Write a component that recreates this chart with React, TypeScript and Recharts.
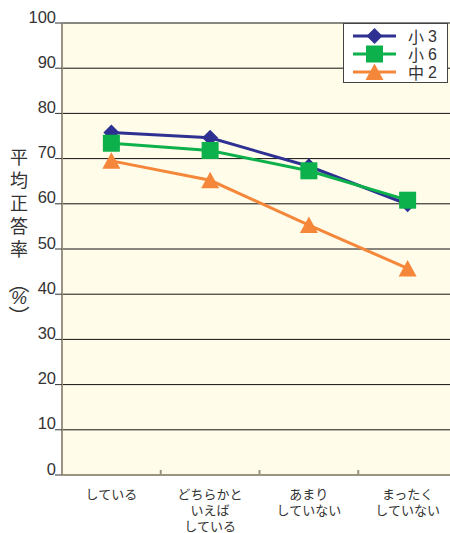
import React from 'react';
import { LineChart, Line, XAxis, YAxis, CartesianGrid } from 'recharts';

const categories = ['している', 'どちらかと\nいえば\nしている', 'あまり\nしていない', 'まったく\nしていない'];
const sho3 = [75.8, 74.6, 68.3, 59.9];
const sho6 = [73.4, 71.8, 67.3, 60.8];
const chu2 = [69.5, 65.2, 55.3, 45.7];
const yTicks = [0, 10, 20, 30, 40, 50, 60, 70, 80, 90, 100];
const yLabelChars = ['平', '均', '正', '答', '率'];

const series = [
  { key: 'sho3', name: '小3', color: '#2e3192', shape: 'diamond' },
  { key: 'sho6', name: '小6', color: '#0db14b', shape: 'square' },
  { key: 'chu2', name: '中2', color: '#f5873a', shape: 'triangle' },
];

const data = categories.map((c, i) => ({ cat: c, sho3: sho3[i], sho6: sho6[i], chu2: chu2[i] }));

const CHART_W = 460;
const CHART_H = 533;
const Y_AXIS_W = 62;
const MARGIN = { top: 23, right: 3, bottom: 0, left: 0 };
const X_AXIS_H = 58;
const PLOT_W = CHART_W - MARGIN.left - MARGIN.right - Y_AXIS_W;
const BAND = PLOT_W / categories.length;
const AXIS_GRAY = '#9a9480';
const JP_FONT = '"Noto Sans CJK JP", sans-serif';
const NUM_FONT = '"Liberation Sans", Arial, sans-serif';

function Marker(props: any) {
  const { cx, cy, shape, color } = props;
  if (cx == null || cy == null) return null;
  if (shape === 'diamond') {
    return <path d={`M${cx},${cy - 8} L${cx + 8},${cy} L${cx},${cy + 8} L${cx - 8},${cy} Z`} fill={color} />;
  }
  if (shape === 'square') {
    return <rect x={cx - 8.5} y={cy - 8.5} width={17} height={17} fill={color} />;
  }
  return <path d={`M${cx},${cy - 8.5} L${cx + 9},${cy + 8} L${cx - 9},${cy + 8} Z`} fill={color} />;
}

function XTick(props: any) {
  const { x, y, payload, index } = props;
  const lines = String(payload.value).split('\n');
  return (
    <g>
      {index > 0 && (
        <line x1={x - BAND / 2} x2={x - BAND / 2} y1={y - 5} y2={y} stroke={AXIS_GRAY} strokeWidth={2} />
      )}
      {lines.map((l, i) => (
        <text
          key={i}
          x={x}
          y={y + 18.5 + i * 16}
          textAnchor="middle"
          dominantBaseline="central"
          fontSize={13}
          fontFamily={JP_FONT}
          fill="#333"
        >
          {l}
        </text>
      ))}
    </g>
  );
}

function YTick(props: any) {
  const { x, y, payload } = props;
  return (
    <text x={x + 1} y={y - 0.5} textAnchor="end" fontSize={16.5} fontFamily={NUM_FONT} fill="#333">
      {payload.value}
    </text>
  );
}

function YLabel() {
  return (
    <g fontFamily={JP_FONT} fill="#333" fontSize={18}>
      {yLabelChars.map((c, i) => (
        <text key={i} x={19} y={156 + i * 23} textAnchor="middle" dominantBaseline="central">
          {c}
        </text>
      ))}
      <text x={19} y={281} textAnchor="middle" dominantBaseline="central" fontSize={21}>︵</text>
      <text x={19} y={298} textAnchor="middle" dominantBaseline="central" fontSize={18} fontFamily={NUM_FONT} fontStyle="italic">%</text>
      <text x={19} y={315} textAnchor="middle" dominantBaseline="central" fontSize={21}>︶</text>
    </g>
  );
}

function LegendBox() {
  return (
    <div style={{ position: 'absolute', left: 343, top: 23, width: 105, height: 60, border: '1px solid #444', background: '#fff', boxSizing: 'border-box' }}>
      <svg width={103} height={58} style={{ display: 'block' }}>
        {series.map((s, i) => {
          const cy = 12 + i * 18;
          return (
            <g key={s.key}>
              <line x1={9} x2={52} y1={cy} y2={cy} stroke={s.color} strokeWidth={3} />
              <Marker cx={30.5} cy={cy} shape={s.shape} color={s.color} />
              <text x={64} y={cy} dominantBaseline="central" fontSize={16} fontFamily={JP_FONT} fill="#333">
                <tspan>{s.name.slice(0, 1)}</tspan>
                <tspan dx={4} fontFamily={NUM_FONT}>{s.name.slice(1)}</tspan>
              </text>
            </g>
          );
        })}
      </svg>
    </div>
  );
}

export default function App() {
  return (
    <div style={{ position: 'absolute', left: 0, top: 0, width: 450, height: 533, overflow: 'hidden', background: '#fff' }}>
      <LineChart width={CHART_W} height={CHART_H} data={data} margin={MARGIN}>
        <CartesianGrid vertical={false} stroke="#111" strokeWidth={1} fill="#fffce9" />
        <XAxis
          dataKey="cat"
          scale="band"
          height={X_AXIS_H}
          axisLine={{ stroke: AXIS_GRAY, strokeWidth: 2 }}
          tickLine={false}
          tickSize={0}
          tickMargin={0}
          interval={0}
          tick={<XTick />}
        />
        <YAxis
          width={Y_AXIS_W}
          domain={[0, 100]}
          ticks={yTicks}
          interval={0}
          axisLine={{ stroke: AXIS_GRAY, strokeWidth: 2 }}
          tickLine={{ stroke: '#333', strokeWidth: 1 }}
          tickSize={7}
          tickMargin={0}
          tick={<YTick />}
        />
        {series.map((s) => (
          <Line
            key={s.key}
            dataKey={s.key}
            name={s.name}
            stroke={s.color}
            strokeWidth={3}
            isAnimationActive={false}
            dot={(p: any) => <Marker key={`${s.key}-${p.index}`} cx={p.cx} cy={p.cy} shape={s.shape} color={s.color} />}
            activeDot={false}
          />
        ))}
      </LineChart>
      <LegendBox />
      <svg width={40} height={533} style={{ position: 'absolute', left: 0, top: 0 }}>
        <YLabel />
      </svg>
    </div>
  );
}
